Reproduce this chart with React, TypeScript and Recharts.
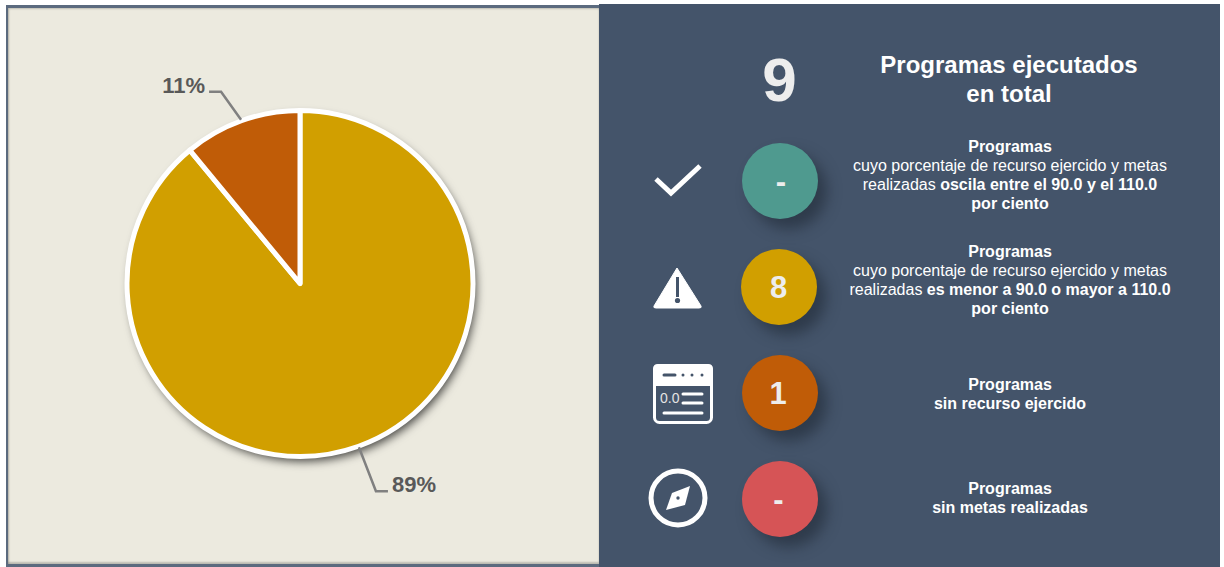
import { Cell, Pie, PieChart } from "recharts";

const sliceNames = ["Fuera de rango", "Sin recurso ejercido"];
const sliceValues = [89, 11];
const sliceColors = ["#D19F00", "#C05C07"];
const sliceLabels = ["89%", "11%"];
const shadowValues = [100];

const pieData = sliceNames.map((name, i) => ({ name, value: sliceValues[i] }));
const shadowData = shadowValues.map((value) => ({ name: "sombra", value }));

const FONT = "'Liberation Sans', Arial, sans-serif";

// offsets of the elbow and the text from the slice edge, by slice index
const labelShapes = [
  { elbowX: 17, elbowY: 44, endX: 12, textX: 4, textY: 0, anchor: "start" },
  { elbowX: -20, elbowY: -28, endX: -12, textX: -4, textY: 1, anchor: "end" },
];

function SliceLabel(props: any) {
  const { cx, cy, midAngle, outerRadius, index } = props;
  const rad = (midAngle * Math.PI) / 180;
  const x0 = cx + (outerRadius + 1) * Math.cos(rad);
  const y0 = cy - (outerRadius + 1) * Math.sin(rad);
  const s = labelShapes[index];
  const x1 = x0 + s.elbowX;
  const y1 = y0 + s.elbowY;
  const x2 = x1 + s.endX;
  return (
    <g>
      <polyline
        points={`${x0},${y0} ${x1},${y1} ${x2},${y1}`}
        fill="none"
        stroke="#808080"
        strokeWidth={2.5}
      />
      <text
        x={x2 + s.textX}
        y={y1 + s.textY - 7}
        textAnchor={s.anchor}
        dominantBaseline="central"
        fontFamily={FONT}
        fontWeight="bold"
        fontSize={22}
        fill="#595959"
      >
        {sliceLabels[index]}
      </text>
    </g>
  );
}

function Badge({ top, left, color, text, shift = 0 }: { top: number; left: number; color: string; text: string; shift?: number }) {
  return (
    <div
      style={{
        position: "absolute",
        top: top - 38,
        left: left - 38,
        width: 76,
        height: 76,
        borderRadius: "50%",
        background: color,
        boxShadow: "9px 10px 14px rgba(30,38,50,0.55)",
        color: "#EDEDED",
        fontFamily: FONT,
        fontWeight: "bold",
        fontSize: 31,
        lineHeight: "77px",
        textAlign: "center",
      }}
    >
      <span style={{ position: "relative", left: shift }}>{text}</span>
    </div>
  );
}

function Note({ top, children }: { top: number; children: React.ReactNode }) {
  return (
    <div
      style={{
        position: "absolute",
        top,
        left: 820,
        width: 380,
        color: "#fff",
        fontFamily: FONT,
        fontSize: 16,
        lineHeight: "19px",
        textAlign: "center",
      }}
    >
      {children}
    </div>
  );
}

function Icons() {
  return (
    <svg width={1224} height={567} style={{ position: "absolute", top: 0, left: 0 }}>
      <polyline points="656,179 671,193 700,166" fill="none" stroke="#fff" strokeWidth={5} />

      <path d="M677 268 L701 306 Q702 308 699 308 L656 308 Q653 308 654 306 Z" fill="#fff" stroke="#fff" strokeLinejoin="round" />
      <rect x={676} y={277} width={3} height={20} fill="#44546A" />
      <circle cx={677.5} cy={300.5} r={2.6} fill="#44546A" />

      <rect x={654.5} y={365.5} width={57} height={57} rx={5} fill="none" stroke="#fff" strokeWidth={3} />
      <path d="M658 364 H708 Q713 364 713 369 V386 H653 V369 Q653 364 658 364 Z" fill="#fff" />
      <line x1={664} y1={375} x2={675} y2={375} stroke="#44546A" strokeWidth={3} strokeLinecap="round" />
      <circle cx={683} cy={375} r={1.5} fill="#44546A" />
      <circle cx={692} cy={375} r={1.5} fill="#44546A" />
      <circle cx={702} cy={375} r={1.5} fill="#44546A" />
      <text x={660} y={403} fontFamily={FONT} fontSize={14} fill="#E4E4E4">0.0</text>
      <line x1={683} y1={394} x2={702} y2={394} stroke="#fff" strokeWidth={3} strokeLinecap="round" />
      <line x1={683} y1={403} x2={702} y2={403} stroke="#fff" strokeWidth={3} strokeLinecap="round" />
      <line x1={664} y1={413} x2={702} y2={413} stroke="#fff" strokeWidth={3} strokeLinecap="round" />

      <circle cx={678} cy={498} r={27} fill="none" stroke="#fff" strokeWidth={5} />
      <polygon points="690,486 685,505 666,510 672,493" fill="#fff" />
      <circle cx={678} cy={498} r={1.7} fill="#44546A" />
    </svg>
  );
}

export default function App() {
  return (
    <div style={{ position: "fixed", top: 0, left: 0, width: 1224, height: 567, background: "#fff", overflow: "hidden" }}>
      <div
        style={{
          position: "absolute",
          top: 5,
          left: 6,
          width: 593,
          height: 562,
          background: "#5B6A7E",
        }}
      />
      <div
        style={{
          position: "absolute",
          top: 8,
          left: 8,
          width: 591,
          height: 556,
          background: "#ECEADF",
          boxShadow: "inset 1px 1px 2px rgba(0,0,0,0.2), inset 0 -2px 2px rgba(0,0,0,0.2)",
        }}
      />
      <div style={{ position: "absolute", top: 4, left: 599, width: 621, height: 563, background: "#44546A" }} />

      <div style={{ position: "absolute", top: 0, left: 0 }}>
        <PieChart width={600} height={567} margin={{ top: 0, right: 0, bottom: 0, left: 0 }}>
          <defs>
            <filter id="pieShadow" x="-20%" y="-20%" width="140%" height="140%">
              <feDropShadow dx={3} dy={5} stdDeviation={5} floodColor="#000" floodOpacity={0.7} />
            </filter>
          </defs>
          <Pie
            data={shadowData}
            dataKey="value"
            cx={300}
            cy={283.5}
            outerRadius={173}
            startAngle={90}
            endAngle={-270}
            stroke="none"
            label={false}
            legendType="none"
            isAnimationActive={false}
          >
            <Cell fill="#fff" filter="url(#pieShadow)" />
          </Pie>
          <Pie
            data={pieData}
            dataKey="value"
            nameKey="name"
            cx={300}
            cy={283.5}
            outerRadius={173}
            startAngle={90}
            endAngle={-270}
            stroke="#fff"
            strokeWidth={5}
            strokeLinejoin="round"
            label={SliceLabel}
            labelLine={false}
            isAnimationActive={false}
          >
            {pieData.map((d, i) => (
              <Cell key={d.name} fill={sliceColors[i]} />
            ))}
          </Pie>
        </PieChart>
      </div>

      <div
        style={{
          position: "absolute",
          top: 45,
          left: 729.5,
          width: 100,
          textAlign: "center",
          color: "#EDEDED",
          fontFamily: FONT,
          fontWeight: "bold",
          fontSize: 62,
          lineHeight: "70px",
        }}
      >
        9
      </div>
      <div
        style={{
          position: "absolute",
          top: 50,
          left: 820,
          width: 378,
          textAlign: "center",
          color: "#fff",
          fontFamily: FONT,
          fontWeight: "bold",
          fontSize: 24,
          lineHeight: "29px",
        }}
      >
        Programas ejecutados
        <br />
        en total
      </div>

      <Icons />

      <Badge top={181} left={780} color="#4F9A8F" text="-" shift={1} />
      <Badge top={287} left={778.5} color="#D19F00" text="8" />
      <Badge top={393} left={780} color="#C05C07" text="1" shift={-2} />
      <Badge top={498.5} left={779.5} color="#D65456" text="-" shift={-1} />

      <Note top={137}>
        <b>Programas</b>
        <br />
        cuyo porcentaje de recurso ejercido y metas
        <br />
        realizadas <b>oscila entre el 90.0 y el 110.0</b>
        <br />
        <b>por ciento</b>
      </Note>
      <Note top={242}>
        <b>Programas</b>
        <br />
        cuyo porcentaje de recurso ejercido y metas
        <br />
        realizadas <b>es menor a 90.0 o mayor a 110.0</b>
        <br />
        <b>por ciento</b>
      </Note>
      <Note top={375}>
        <b>Programas</b>
        <br />
        <b>sin recurso ejercido</b>
      </Note>
      <Note top={479}>
        <b>Programas</b>
        <br />
        <b>sin metas realizadas</b>
      </Note>
    </div>
  );
}
